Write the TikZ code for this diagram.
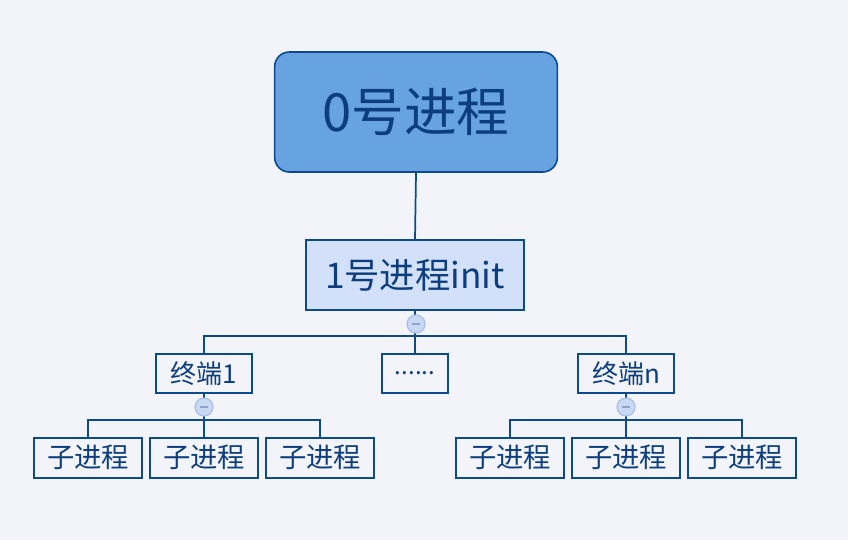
\documentclass[tikz,border=0pt]{standalone}
\usepackage{fontspec}
\setmainfont{Noto Sans CJK SC}
\definecolor{bg}{HTML}{F3F4F9}
\definecolor{edge}{HTML}{0B4A8C}
\definecolor{ink}{HTML}{0C3E7E}
\definecolor{rootfill}{HTML}{66A3E0}
\definecolor{initfill}{HTML}{D3E0FA}
\definecolor{knobfill}{HTML}{C9D8F3}
\definecolor{knobedge}{HTML}{A7BFEA}
\definecolor{knobmark}{HTML}{8CA3CB}
\begin{document}
\begin{tikzpicture}[x=0.75pt,y=-0.75pt,
  box/.style={draw=edge,line width=1.5pt,fill=bg,text=ink,inner sep=0pt,anchor=center},
  rootbox/.style={box,fill=rootfill,line width=1.2pt,rounded corners=11pt,
    minimum width=212pt,minimum height=90pt,font=\fontsize{39.5}{44}\selectfont},
  initbox/.style={box,fill=initfill,minimum width=163pt,minimum height=52pt,
    font=\fontsize{26.5}{30}\selectfont},
  termbox/.style={box,minimum width=72pt,minimum height=29pt,font=\fontsize{19.5}{22}\selectfont},
  dotbox/.style={box,minimum width=49pt,minimum height=29pt,font=\fontsize{18}{20}\selectfont},
  childbox/.style={box,minimum width=81pt,minimum height=30pt,font=\fontsize{20.5}{23}\selectfont},
  link/.style={draw=edge,line width=1.3pt},
  knob/.style={circle,draw=knobedge,fill=knobfill,line width=0.9pt,minimum size=13.5pt,inner sep=0pt,
    path picture={\draw[knobmark,line width=1.4pt] ([xshift=-3pt]path picture bounding box.center) -- ([xshift=3pt]path picture bounding box.center);}}
]
\fill[bg] (0,0) rectangle (848,540);
\useasboundingbox (0,0) rectangle (848,540);

% levels
\node[rootbox] (root) at (416,112) {0号进程};
\node[initbox] (init) at (415,275) {1号进程init};

\node[termbox] (t1) at (204,373.5) {终端1};
\node[dotbox]  (tm) at (415,373.5) {......};
\node[termbox] (tn) at (626,373.5) {终端n};

\node[childbox] (a1) at (88,457.5)  {子进程};
\node[childbox] (a2) at (204,457.5) {子进程};
\node[childbox] (a3) at (320,457.5) {子进程};
\node[childbox] (b1) at (510,457.5) {子进程};
\node[childbox] (b2) at (626,457.5) {子进程};
\node[childbox] (b3) at (742,457.5) {子进程};

% bus junctions
\coordinate (j0) at (415,336);
\coordinate (j1) at (204,420);
\coordinate (j2) at (626,420);

% connectors
\draw[link] (root.south) -- (init.north);
\draw[link] (init.south) -- (j0);
\draw[link] (t1.north) |- (j0) -| (tn.north);
\draw[link] (j0) -- (tm.north);

\draw[link] (t1.south) -- (j1);
\draw[link] (a1.north) |- (j1) -| (a3.north);
\draw[link] (j1) -- (a2.north);

\draw[link] (tn.south) -- (j2);
\draw[link] (b1.north) |- (j2) -| (b3.north);
\draw[link] (j2) -- (b2.north);

% collapse knobs
\node[knob] (k0) at (416,324) {};
\node[knob] (k1) at (204,407) {};
\node[knob] (k2) at (626,407) {};
\end{tikzpicture}
\end{document}
